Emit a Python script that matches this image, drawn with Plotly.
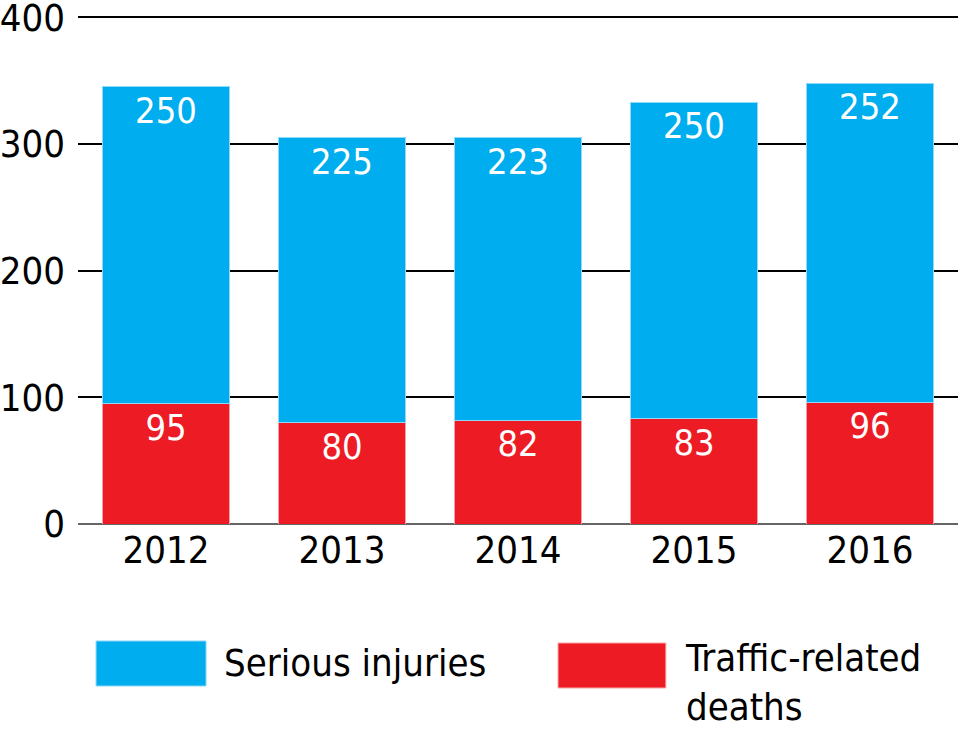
import plotly.graph_objects as go

years = ["2012", "2013", "2014", "2015", "2016"]
deaths = [95, 80, 82, 83, 96]
injuries = [250, 225, 223, 250, 252]
series_names = ["Serious injuries", "Traffic-related<br>deaths"]
y_ticks = [0, 100, 200, 300, 400]

BLUE = "#00AEEF"
RED = "#ED1C24"
FONT = "DejaVu Sans Condensed"

fig = go.Figure()
fig.add_trace(go.Bar(
    x=years, y=deaths, name=series_names[1],
    marker=dict(color=RED, line=dict(color="#f7a0a3", width=1)),
    text=[str(v) for v in deaths], textposition="inside",
    insidetextanchor="end",
    textfont=dict(family=FONT, size=36, color="white"),
    showlegend=False, hoverinfo="x+y",
))
fig.add_trace(go.Bar(
    x=years, y=injuries, name=series_names[0],
    marker=dict(color=BLUE, line=dict(color="#8fd8f7", width=1)),
    text=[str(v) for v in injuries], textposition="inside",
    insidetextanchor="end",
    textfont=dict(family=FONT, size=36, color="white"),
    showlegend=False, hoverinfo="x+y",
))

# legend swatches (paper coords); plot area is 880 x 508 px
fig.add_shape(type="rect", xref="paper", yref="paper",
              x0=0.0205, x1=0.1455, y0=-0.3189, y1=-0.2303,
              fillcolor=BLUE, line=dict(color="#8fd8f7", width=1))
fig.add_shape(type="rect", xref="paper", yref="paper",
              x0=0.5455, x1=0.668, y0=-0.3228, y1=-0.2343,
              fillcolor=RED, line=dict(color="#f7a0a3", width=1))
fig.add_annotation(xref="paper", yref="paper", x=0.1636, y=-0.2736,
                   xanchor="left", yanchor="middle", showarrow=False,
                   text=series_names[0], align="left",
                   font=dict(family=FONT, size=38, color="black"))
fig.add_annotation(xref="paper", yref="paper", x=0.6875, y=-0.2157,
                   xanchor="left", yanchor="top", showarrow=False,
                   text=series_names[1], align="left",
                   font=dict(family=FONT, size=38, color="black"))

fig.update_layout(
    barmode="stack",
    bargap=0.284,
    width=960, height=730,
    margin=dict(l=78, r=2, t=16, b=206, pad=0, autoexpand=False),
    paper_bgcolor="white",
    plot_bgcolor="white",
    font=dict(family=FONT, size=36, color="black"),
    uniformtext=dict(mode="show", minsize=10),
    xaxis=dict(showgrid=False, showline=False, ticks="", automargin=False,
               tickfont=dict(family=FONT, size=38, color="black")),
    yaxis=dict(range=[0, 401], tickvals=y_ticks, showgrid=True,
               automargin=False, ticklabeloverflow="allow",
               gridcolor="black", gridwidth=2, zeroline=True,
               zerolinecolor="#666666", zerolinewidth=2,
               ticks="", ticklabelstandoff=12,
               tickfont=dict(family=FONT, size=38, color="black")),
)

fig.write_html("out.html", config={"displayModeBar": False},
               post_script="document.body.style.margin='0';")
